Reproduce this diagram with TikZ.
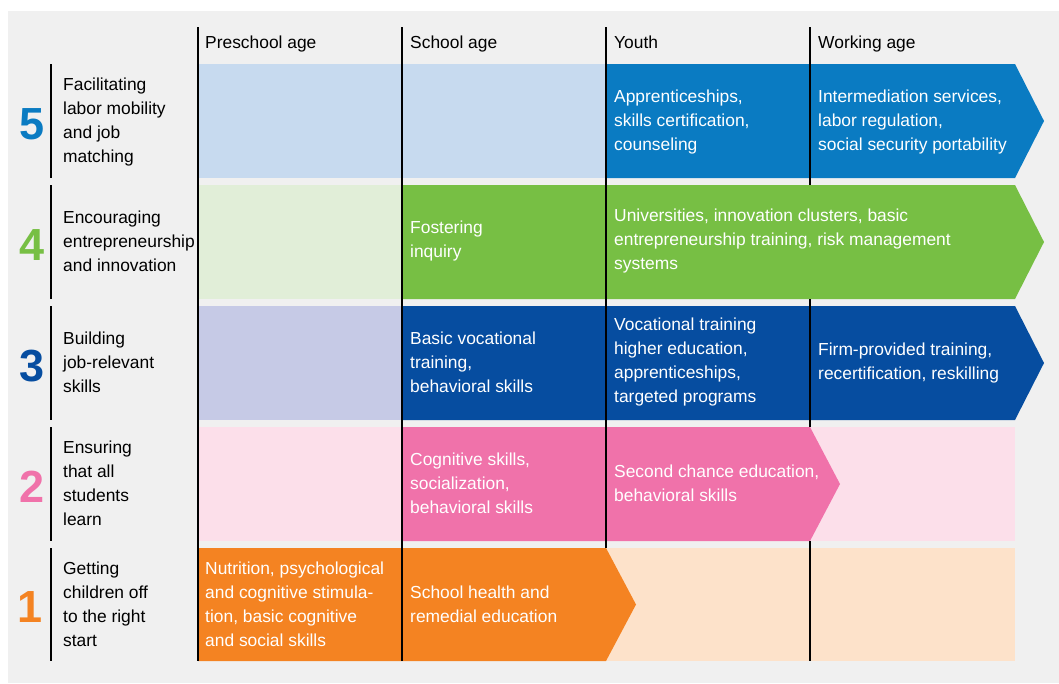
\documentclass[tikz,border=0pt]{standalone}
\usepackage{fontspec}
\setmainfont{Liberation Sans}
\definecolor{bggrey}{HTML}{F0F0F0}
\definecolor{cblue}{HTML}{0A7BC2}
\definecolor{clblue}{HTML}{C7DAEF}
\definecolor{cgreen}{HTML}{77BF44}
\definecolor{clgreen}{HTML}{E1EED8}
\definecolor{cnavy}{HTML}{064DA0}
\definecolor{clav}{HTML}{C6CAE6}
\definecolor{cpink}{HTML}{F072AA}
\definecolor{clpink}{HTML}{FCDFEA}
\definecolor{corange}{HTML}{F48322}
\definecolor{cpeach}{HTML}{FDE2CA}
\begin{document}
\begin{tikzpicture}[x=1pt,y=-1pt,
  txt/.style={anchor=west, inner sep=0pt, align=left, yshift=-3pt,
    font=\fontsize{17.4}{24}\selectfont,
    execute at begin node=\strut, execute at end node=\strut},
  wtxt/.style={txt, text=white},
  num/.style={inner sep=0pt, font=\fontsize{45}{45}\selectfont\bfseries},
  hdr/.style={anchor=base west, inner sep=0pt, font=\fontsize{17.4}{24}\selectfont},
  rule/.style={line width=1.1pt, black}]
\useasboundingbox (0,0) rectangle (1059,683);
\fill[bggrey] (8,11) rectangle (1059,683);
% row backgrounds and arrows
\fill[clblue] (198,64) rectangle (606,178);
\fill[cblue] (606,64) -- (1015,64) -- (1044,121) -- (1015,178) -- (606,178) -- cycle;
\fill[clgreen] (198,185) rectangle (402,299);
\fill[cgreen] (402,185) -- (1015,185) -- (1044,242) -- (1015,299) -- (402,299) -- cycle;
\fill[clav] (198,306) rectangle (402,420);
\fill[cnavy] (402,306) -- (1015,306) -- (1044,363) -- (1015,420) -- (402,420) -- cycle;
\fill[clpink] (198,427) rectangle (1015,541);
\fill[cpink] (402,427) -- (810,427) -- (840,484) -- (810,541) -- (402,541) -- cycle;
\fill[cpeach] (198,548) rectangle (1015,661);
\fill[corange] (198,548) -- (606,548) -- (636,604.5) -- (606,661) -- (198,661) -- cycle;
% column rules
\coordinate (c1t) at (198,27); \coordinate (c1b) at (198,661);
\coordinate (c2t) at (402,27); \coordinate (c2b) at (402,661);
\coordinate (c3t) at (606,27); \coordinate (c3b) at (606,548);
\coordinate (c4t) at (810,27); \coordinate (c4a) at (810,185);
\coordinate (c4c) at (810,299); \coordinate (c4d) at (810,427);
\coordinate (c4e) at (810,541); \coordinate (c4b) at (810,661);
\draw[rule] (c1t) -- (c1b);
\draw[rule] (c2t) -- (c2b);
\draw[rule] (c3t) -- (c3b);
\draw[rule] (c4t) -- (c4a) (c4c) -- (c4d) (c4e) -- (c4b);
% row label rules
\foreach \t/\b/\n in {64/178/5,185/299/4,306/420/3,427/541/2,548/661/1}{
  \coordinate (l\n t) at (51,\t); \coordinate (l\n b) at (51,\b);
  \draw[rule] (l\n t) -- (l\n b);
}
% headers
\node[hdr] (h1) at (205,48.5) {Preschool age};
\node[hdr] (h2) at (410,48.5) {School age};
\node[hdr] (h3) at (614,48.5) {Youth};
\node[hdr] (h4) at (818,48.5) {Working age};
% numbers
\node[num, text=cblue] (n5) at (32,124) {5};
\node[num, text=cgreen] (n4) at (32,245) {4};
\node[num, text=cnavy] (n3) at (32,366) {3};
\node[num, text=cpink] (n2) at (32,487) {2};
\node[num, text=corange] (n1) at (30,607.5) {1};
% row labels
\node[txt] (r5) at (63,121) {Facilitating\\labor mobility\\and job\\matching};
\node[txt] (r4) at (63,242) {Encouraging\\entrepreneurship\\and innovation};
\node[txt] (r3) at (63,363) {Building\\job-relevant\\skills};
\node[txt] (r2) at (63,484) {Ensuring\\that all\\students\\learn};
\node[txt] (r1) at (63,604.5) {Getting\\children off\\to the right\\start};
% cell texts
\node[wtxt] (t53) at (614,121) {Apprenticeships,\\skills certification,\\counseling};
\node[wtxt] (t54) at (818,121) {Intermediation services,\\labor regulation,\\social security portability};
\node[wtxt] (t42) at (410,240) {Fostering\\inquiry};
\node[wtxt] (t43) at (614,240) {Universities, innovation clusters, basic\\entrepreneurship training, risk management\\systems};
\node[wtxt] (t32) at (410,363) {Basic vocational\\training,\\behavioral skills};
\node[wtxt] (t33) at (614,361) {Vocational training\\higher education,\\apprenticeships,\\targeted programs};
\node[wtxt] (t34) at (818,362) {Firm-provided training,\\recertification, reskilling};
\node[wtxt] (t22) at (410,484) {Cognitive skills,\\socialization,\\behavioral skills};
\node[wtxt] (t23) at (614,484) {Second chance education,\\behavioral skills};
\node[wtxt] (t11) at (205,604.5) {Nutrition, psychological\\and cognitive stimula-\\tion, basic cognitive\\and social skills};
\node[wtxt] (t12) at (410,604.5) {School health and\\remedial education};
\end{tikzpicture}
\end{document}
